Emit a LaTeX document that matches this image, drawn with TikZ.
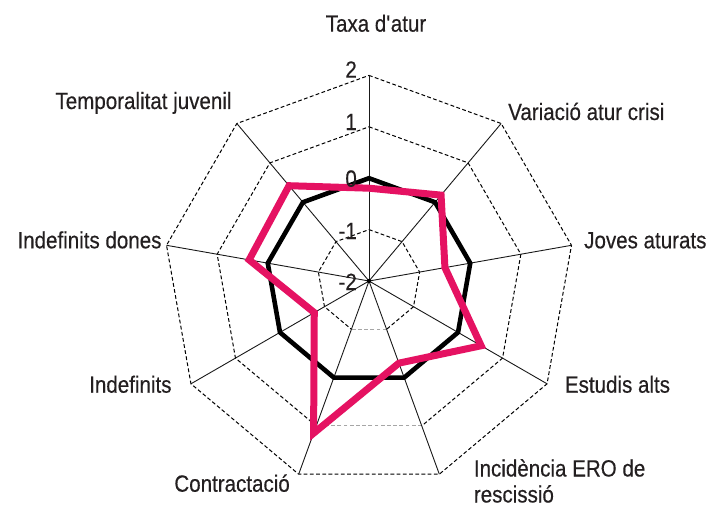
\documentclass[tikz,border=0pt]{standalone}
\usepackage{fontspec}
\setmainfont{Liberation Sans}[FakeStretch=0.875,FakeBold=0.4]
\definecolor{pinkc}{RGB}{229,18,98}
\definecolor{txt}{RGB}{35,31,32}
\begin{document}
\begin{tikzpicture}[x=1pt,y=1pt,
  ringline/.style={black, line width=1pt, dash pattern=on 3.8pt off 2.4pt},
  ringgray/.style={gray!70, line width=1pt, dash pattern=on 3.8pt off 2.4pt},
  spoke/.style={black!90, line width=0.9pt},
  avgline/.style={black, line width=4.6pt, line join=miter},
  serline/.style={pinkc, line width=7pt, line join=miter},
  lbl/.style={font=\fontsize{23.5}{28}\selectfont, text=txt, inner sep=0pt},
  num/.style={font=\fontsize{23.5}{28}\selectfont, text=txt, inner sep=0pt, anchor=base east}]
\useasboundingbox (0,0) rectangle (706,507);
\def\U{51.4}
\begin{scope}[shift={(369,226)}]
  % rings
  \foreach \r in {1,2,3,4}{
    \draw[ringline] (90:\r*\U)
      \foreach \k in {1,...,8}{ -- ({90-40*\k}:\r*\U) } -- cycle;
  }
  % gray bottom segments
  \foreach \r in {1,3}{
    \draw[white, line width=1.9pt] (-70:\r*\U) -- (-110:\r*\U);
    \draw[ringgray] (-70:\r*\U) -- (-110:\r*\U);
  }
  % spokes
  \coordinate (o) at (0,0);
  \foreach \k in {0,...,8}{
    \coordinate (ax\k) at ({90-40*\k}:4*\U);
    \draw[spoke] (o) -- (ax\k);
  }
  \fill[black] (o) circle (2.2pt);
  % average series (value 0)
  \draw[avgline] (90:2*\U)
    \foreach \k in {1,...,8}{ -- ({90-40*\k}:2*\U) } -- cycle;
  % pink series
  \draw[serline] (90:92.8) -- (50:112.1) -- (10:77.1) -- (-30:129.5)
    -- (-70:87.4) -- (-110:162.0) -- (-150:63.2) -- (-190:121.7)
    -- (-230:124.4) -- cycle;
\end{scope}
% axis numbers
\node[num] (n2) at (357,507-77.7) {2};
\node[num] (n1) at (357,507-130) {1};
\node[num] (n0) at (357,507-186.7) {0};
\node[num] (nm1) at (357,507-239) {-1};
\node[num] (nm2) at (357,507-290) {-2};
% labels
\node[lbl, anchor=base] (l0) at (376,507-31.7) {Taxa d\textquotesingle atur};
\node[lbl, anchor=base west] (l1) at (508,507-120) {Variació atur crisi};
\node[lbl, anchor=base west] (l2) at (584,507-248.3) {Joves aturats};
\node[lbl, anchor=base west] (l3) at (564.7,507-392.7) {Estudis alts};
\node[lbl, anchor=base west] (l4a) at (473.7,507-476.5) {Incidència ERO de};
\node[lbl, anchor=base west] (l4b) at (473.7,507-502.5) {rescissió};
\node[lbl, anchor=base east] (l5) at (290,507-491.7) {Contractació};
\node[lbl, anchor=base east] (l6) at (171.7,507-392.7) {Indefinits};
\node[lbl, anchor=base east] (l7) at (161.7,507-248.3) {Indefinits dones};
\node[lbl, anchor=base east] (l8) at (231.7,507-109) {Temporalitat juvenil};
\end{tikzpicture}
\end{document}
